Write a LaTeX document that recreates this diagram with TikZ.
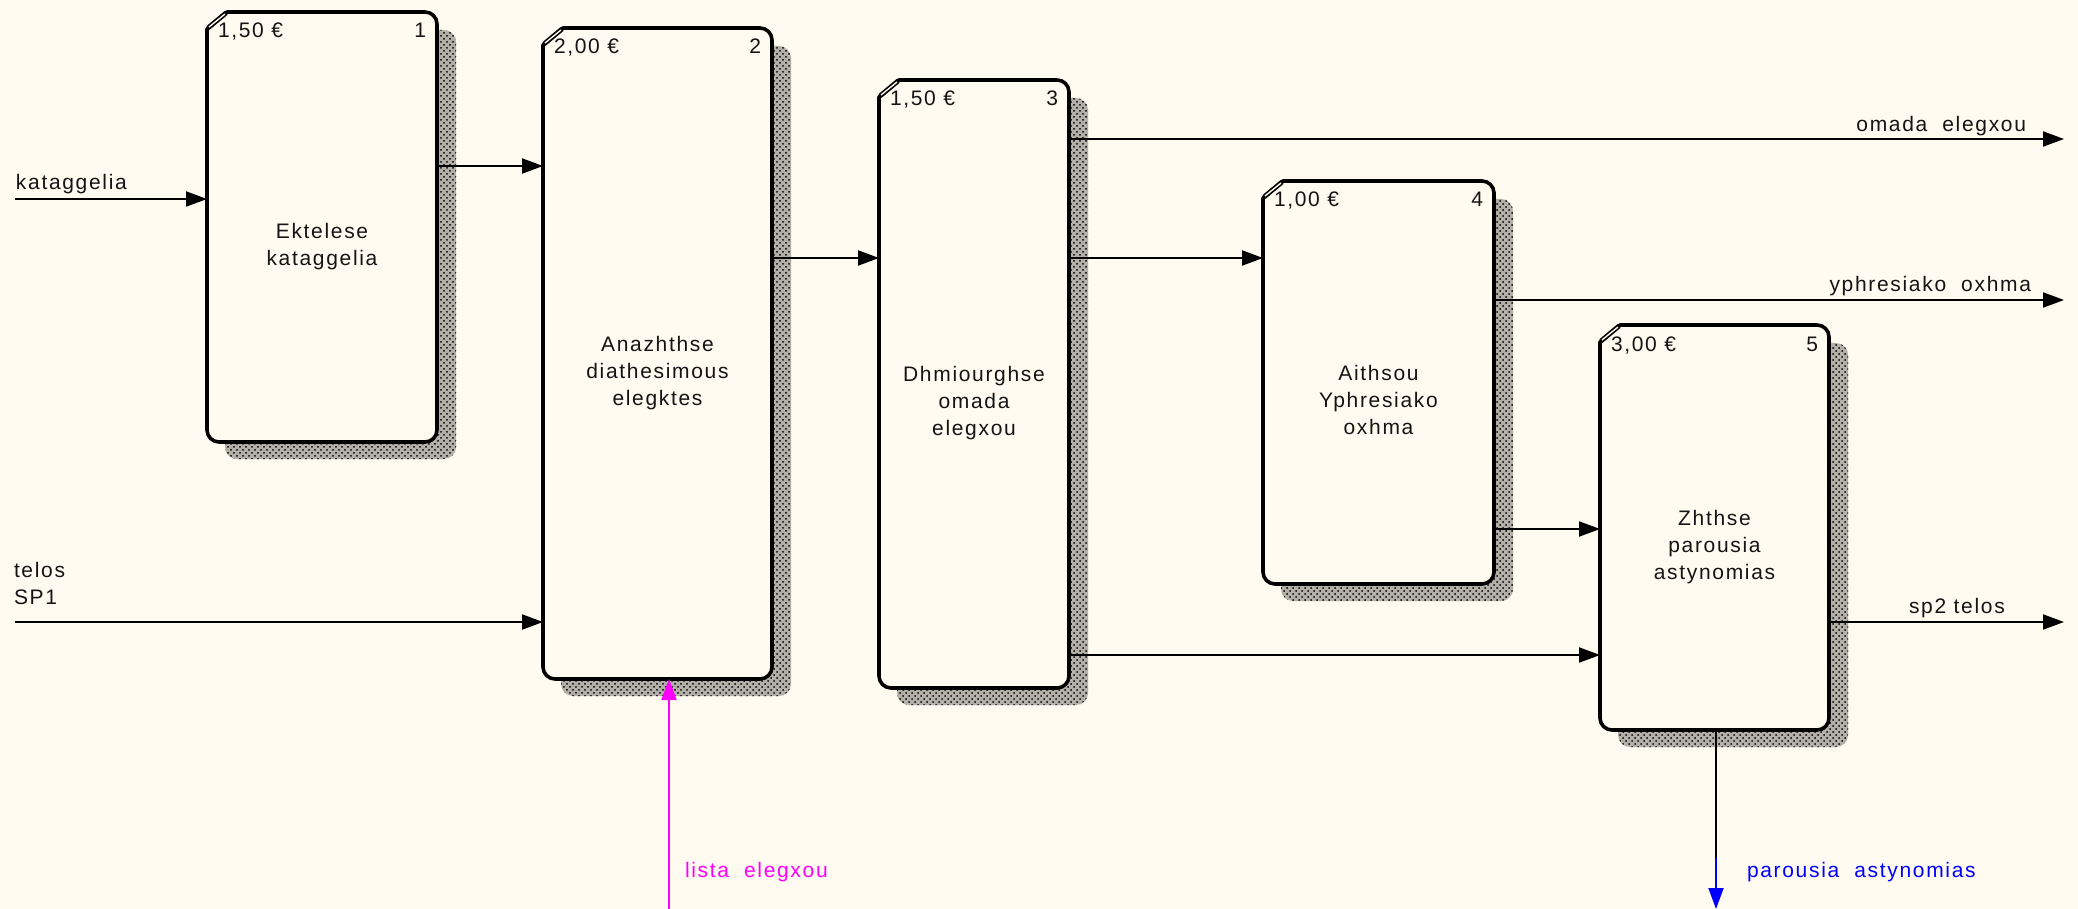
\documentclass[tikz,border=0pt]{standalone}
\usepackage{fontspec}
\setmainfont{Liberation Sans}[LetterSpace=8]
\usetikzlibrary{arrows.meta,patterns}
\definecolor{bgc}{RGB}{255,251,240}
\definecolor{txt}{RGB}{20,20,20}
\definecolor{magc}{RGB}{255,0,255}
\definecolor{bluec}{RGB}{0,0,255}
\newcommand\dfont{\fontsize{10.5pt}{13.5pt}\selectfont}
\tikzset{
  lbl/.style={font=\dfont, text=txt, inner sep=0pt, outer sep=0pt},
  acttext/.style={font=\dfont, text=txt, inner sep=0pt, align=center},
  flow/.style={line width=1pt, -{Triangle[length=10.5pt,width=7.5pt]}},
  boxline/.style={line width=1.8pt, fill=bgc, line join=round},
  shadowbase/.style={fill=black!30!bgc},
  shadowfill/.style={pattern=crosshatch dots, pattern color=black},
}
% #1 name, #2 l, #3 t, #4 r, #5 b, #6 price, #7 number, #8 text
\newcommand\actbox[8]{%
  \fill[shadowbase, rounded corners=6pt] (#2+18,#3+18) rectangle (#4+19,#5+17);
  \fill[shadowfill, rounded corners=6pt] (#2+18,#3+18) rectangle (#4+19,#5+17);
  \node[anchor=north west, minimum width={(#4-#2)*0.5pt}, minimum height={(#5-#3)*0.5pt}, inner sep=0pt, outer sep=0pt] (#1) at (#2,#3) {};
  \draw[boxline] (#2+20,#3) -- (#4-12,#3) arc[start angle=90,end angle=0,radius=6pt]
     -- (#4,#5-12) arc[start angle=0,end angle=-90,radius=6pt]
     -- (#2+12,#5) arc[start angle=-90,end angle=-180,radius=6pt]
     -- (#2,#3+17) -- cycle;
  \draw[line width=2.4pt] (#2+1,#3+16) -- (#2+19,#3+1);
  \draw[bgc, line width=0.7pt] (#2+2,#3+15) -- (#2+18,#3+2);
  \node[lbl, anchor=base west] (#1-p) at (#2+11,#3+26) {#6};
  \node[lbl, anchor=base east] (#1-n) at (#4-11,#3+26) {#7};
  \node[acttext] (#1-t) at ({(#2+#4)/2},{(#3+#5)/2+19.5}) {#8};
}
\begin{document}
\begin{tikzpicture}[x=0.5pt,y=-0.5pt]
\fill[bgc] (0,0) rectangle (2078,909);
\useasboundingbox (0,0) rectangle (2078,909);

\actbox{b1}{207}{12}{437}{442}{1,50 €}{1}{\strut Ektelese\\\strut kataggelia}
\actbox{b2}{543}{28}{772}{679}{2,00 €}{2}{\strut Anazhthse\\\strut diathesimous\\\strut elegktes}
\actbox{b3}{879}{80}{1069}{688}{1,50 €}{3}{\strut Dhmiourghse\\\strut omada\\\strut elegxou}
\actbox{b4}{1263}{181}{1494}{584}{1,00 €}{4}{\strut Aithsou\\\strut Yphresiako\\\strut oxhma}
\actbox{b5}{1600}{325}{1829}{730}{3,00 €}{5}{\strut Zhthse\\\strut parousia\\\strut astynomias}

% levels and free ends
\coordinate (kin) at (15,199);
\coordinate (tin) at (15,622);
\coordinate (ya) at (0,166);
\coordinate (yb) at (0,258);
\coordinate (yc) at (0,529);
\coordinate (yd) at (0,655);
\coordinate (oout) at (2064,139);
\coordinate (yout) at (2064,300);
\coordinate (sout) at (2064,622);
\coordinate (pmid) at (1716,858);
\coordinate (pout) at (1716,909);
\coordinate (lin) at (669,909);

\draw[flow] (kin) -- (kin -| b1.west);
\draw[flow] (b1.east |- ya) -- (b2.west |- ya);
\draw[flow] (tin) -- (tin -| b2.west);
\draw[flow] (b2.east |- yb) -- (b3.west |- yb);
\draw[flow] (b3.east |- yb) -- (b4.west |- yb);
\draw[flow] (b3.east |- oout) -- (oout);
\draw[flow] (b4.east |- yout) -- (yout);
\draw[flow] (b4.east |- yc) -- (b5.west |- yc);
\draw[flow] (b3.east |- yd) -- (b5.west |- yd);
\draw[flow] (b5.east |- sout) -- (sout);
\draw[line width=1pt] (pmid |- b5.south) -- (pmid);
\draw[flow, bluec] (pmid) -- (pout);
\draw[flow, magc] (lin) -- (lin |- b2.south);

% labels
\node[lbl, anchor=base west] (l-kat) at (16,190) {kataggelia};
\node[lbl, anchor=north west, align=left] (l-tel) at (14,559) {\strut telos\\\strut SP1};
\node[lbl, anchor=base east] (l-om) at (2026,132) {omada~~elegxou};
\node[lbl, anchor=base east] (l-yp) at (2031,292) {yphresiako~~oxhma};
\node[lbl, anchor=base west] (l-sp) at (1909,613) {sp2 telos};
\node[lbl, anchor=base west, text=bluec] (l-pa) at (1747,877) {parousia~~astynomias};
\node[lbl, anchor=base west, text=magc] (l-li) at (685,877) {lista~~elegxou};
\end{tikzpicture}
\end{document}
